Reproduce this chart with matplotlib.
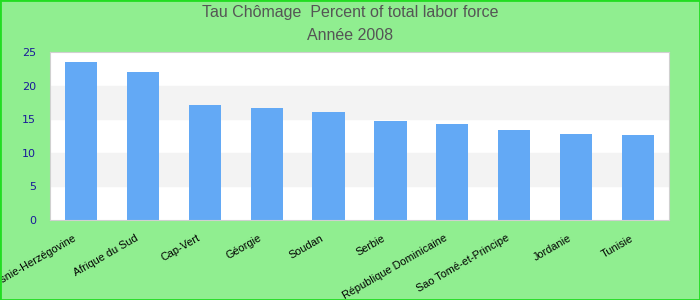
import matplotlib.pyplot as plt
import matplotlib.transforms as mtransforms
from matplotlib.patches import Rectangle

pays = ["Bosnie-Herzégovine", "Afrique du Sud", "Cap-Vert", "Géorgie", "Soudan",
        "Serbie", "République Dominicaine", "Sao Tomé-et-Principe", "Jordanie", "Tunisie"]
chomage = [23.5, 22.0, 17.1, 16.7, 16.1, 14.7, 14.3, 13.4, 12.8, 12.6]
yticks = [0, 5, 10, 15, 20, 25]

fig = plt.figure(figsize=(7, 3), dpi=100, facecolor="#90ee90")
fig.patches.append(Rectangle((0, 0), 1, 1, transform=fig.transFigure, fill=False,
                             edgecolor="#22dd22", linewidth=2))
ax = fig.add_axes([50 / 700, 80 / 300, 619 / 700, 168 / 300])
ax.set_facecolor("white")

# bandes grises alternées
for lo in (5, 15):
    ax.axhspan(lo, lo + 5, color="#f3f3f3", zorder=0)

ax.bar(range(len(pays)), chomage, width=0.52, color="#63a9f5", zorder=2)
ax.set_xlim(-0.5, len(pays) - 0.5)
ax.set_ylim(0, 25)
ax.set_yticks(yticks)
ax.tick_params(axis="y", length=0, pad=10, labelsize=8, labelcolor="#1a1a99")
ax.tick_params(axis="x", length=0, pad=9.5)
ax.set_xticks(range(len(pays)))
ax.set_xticklabels(pays, rotation=30, ha="right", rotation_mode="anchor",
                   fontsize=7.8, family="Liberation Sans")
decal = mtransforms.ScaledTranslation(-8 / 100, 0, fig.dpi_scale_trans)
for lab in ax.get_xticklabels():
    lab.set_transform(lab.get_transform() + decal)
for s in ax.spines.values():
    s.set_color("#d0d0d0")

fig.text(0.5, 1 - 13 / 300, "Tau Chômage  Percent of total labor force", ha="center",
         va="center", fontsize=11.5, color="#555555", family="Liberation Sans")
fig.text(0.5, 1 - 36 / 300, "Année 2008", ha="center", va="center",
         fontsize=11.5, color="#555555", family="Liberation Sans")

fig.savefig("out.png", dpi=100, facecolor=fig.get_facecolor())
